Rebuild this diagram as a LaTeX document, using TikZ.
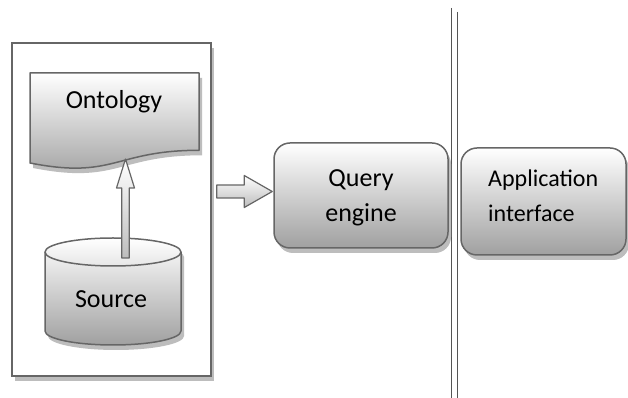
\documentclass[tikz,border=0pt]{standalone}
\usepackage{fontspec}
\setmainfont{Carlito}
\usetikzlibrary{shadows,calc}
\definecolor{edge}{HTML}{666666}
\definecolor{shad}{HTML}{BDBDBD}
\definecolor{shadebot}{HTML}{A0A0A0}
\definecolor{sepline}{HTML}{555555}
\tikzset{
  shp/.style={draw=edge, line width=1.5pt, line join=round, top color=white, bottom color=shadebot},
  shd/.style={general shadow={fill=shad, shadow xshift=3pt, shadow yshift=-5pt}},
  lbl/.style={font=\fontsize{26}{30}\selectfont, anchor=base, inner sep=0pt, text=black},
  applbl/.style={font=\fontsize{24}{30}\selectfont, anchor=base west, inner sep=0pt, text=black},
  rbox/.style={shp, shd, rounded corners=16pt, inner sep=0pt},
  framebox/.style={draw=edge, line width=1.5pt, fill=white, shd, inner sep=0pt},
  blockarrow/.style={draw=edge, line width=1.2pt, line join=round, top color=white, bottom color=shadebot!70!white},
  sep/.style={draw=sepline, line width=0.9pt},
}
\begin{document}
\begin{tikzpicture}[x=1pt,y=1pt]
\useasboundingbox (0,0) rectangle (628,398);
% separators
\draw[sep] (451,390) -- (451,0);
\draw[sep] (457,386) -- (457,0);
% outer frame
\node[framebox, minimum width=199, minimum height=333] (frame) at (111.5,188.5) {};
% ontology document
\draw[shp, shd] (30,325) -- (199,325) -- (199,247.7) .. controls (114.5,247.7) and (114.5,218.3) .. (30,235) -- cycle;
\node[lbl] (onto) at (114,289) {Ontology};
% source cylinder
\draw[shp, shd] (45,146) -- (45,67) arc[start angle=180, end angle=360, x radius=68, y radius=14] -- (181,146) arc[start angle=0, end angle=180, x radius=68, y radius=14] -- cycle;
\draw[draw=edge, line width=1.5pt] (45,146) arc[start angle=180, end angle=360, x radius=68, y radius=14];
\node[lbl] (src) at (111,90) {Source};
% up arrow source -> ontology
\coordinate (upTail) at (125.5,140);
\coordinate (upTip) at (125.5,239);
\draw[blockarrow] ($(upTail)+(-3.8,0)$) -- ($(upTip)+(-3.8,-29)$) -- ($(upTip)+(-9,-29)$) -- (upTip) -- ($(upTip)+(9,-29)$) -- ($(upTip)+(3.8,-29)$) -- ($(upTail)+(3.8,0)$) -- cycle;
% query engine
\node[rbox, minimum width=174, minimum height=105] (query) at (361,202.5) {};
\node[lbl] (q1) at (361,211) {Query};
\node[lbl] (q2) at (361,176) {engine};
% right arrow frame -> query
\coordinate (raTail) at ($(frame.east)+(5,18)$);
\coordinate (raTip) at ($(query.west)+(-1,4)$);
\draw[blockarrow] ($(raTail)+(0,-6.5)$) -- ($(raTip)+(-28,-6.5)$) -- ($(raTip)+(-28,-16)$) -- (raTip) -- ($(raTip)+(-28,16)$) -- ($(raTip)+(-28,6.5)$) -- ($(raTail)+(0,6.5)$) -- cycle;
% application interface
\node[rbox, minimum width=165, minimum height=107] (app) at (543.5,196.5) {};
\node[applbl] (a1) at (488,211) {Application};
\node[applbl] (a2) at (488,176) {interface};
\end{tikzpicture}
\end{document}
